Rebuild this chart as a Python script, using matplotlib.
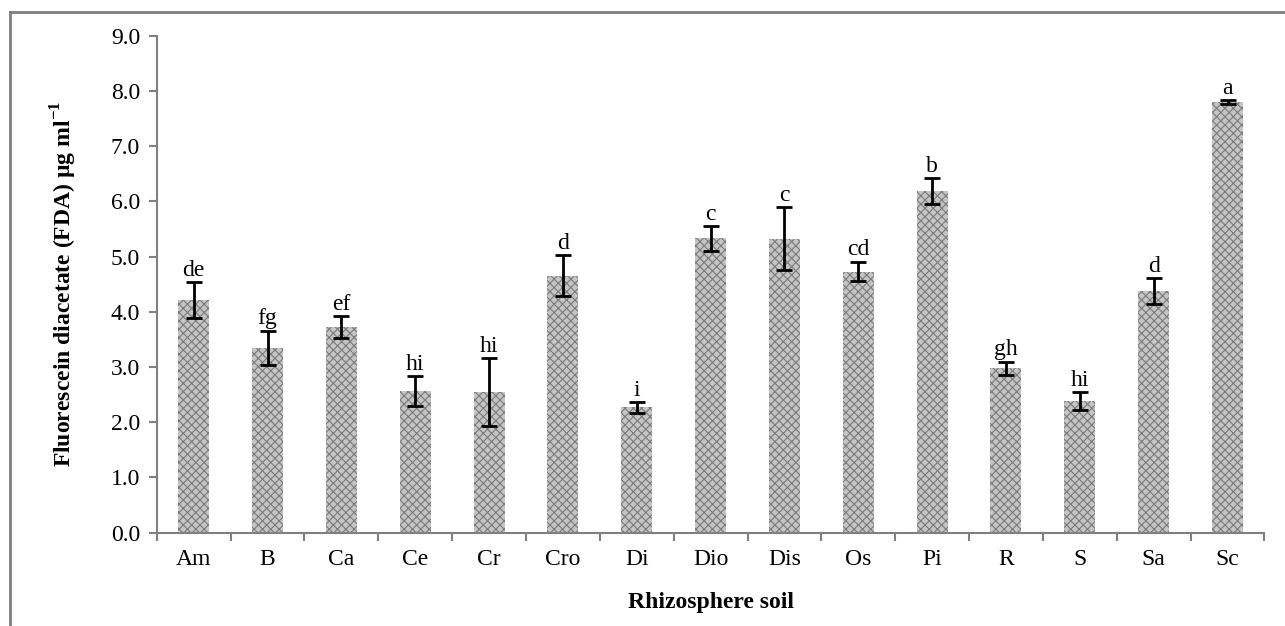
import matplotlib
matplotlib.use('Agg')
import matplotlib.pyplot as plt
from matplotlib.lines import Line2D

matplotlib.rcParams['font.family'] = ['Liberation Serif', 'DejaVu Serif']
matplotlib.rcParams['mathtext.fontset'] = 'custom'
matplotlib.rcParams['mathtext.rm'] = 'Liberation Serif'
matplotlib.rcParams['mathtext.bf'] = 'Liberation Serif:bold'
matplotlib.rcParams['hatch.linewidth'] = 0.8

soils = ['Am', 'B', 'Ca', 'Ce', 'Cr', 'Cro', 'Di', 'Dio', 'Dis', 'Os', 'Pi', 'R', 'S', 'Sa', 'Sc']
fda = [4.21, 3.35, 3.72, 2.56, 2.55, 4.65, 2.27, 5.33, 5.32, 4.73, 6.19, 2.98, 2.38, 4.38, 7.80]
err = [0.33, 0.31, 0.20, 0.27, 0.62, 0.37, 0.10, 0.23, 0.57, 0.18, 0.24, 0.12, 0.16, 0.23, 0.03]
letters = ['de', 'fg', 'ef', 'hi', 'hi', 'd', 'i', 'c', 'c', 'cd', 'b', 'gh', 'hi', 'd', 'a']

fig = plt.figure(figsize=(12.85, 6.26), dpi=100)
ax = fig.add_axes([0.122, 0.149, 0.862, 0.794])

x = range(len(soils))
ax.bar(x, fda, width=0.42, color='#c4c4c4', edgecolor='#7a7a7a', hatch='xxxx', linewidth=0)
ax.errorbar(x, fda, yerr=err, fmt='none', ecolor='black', elinewidth=2, capsize=6, capthick=2)

for i, (v, e, lab) in enumerate(zip(fda, err, letters)):
    ax.text(i, v + e + 0.02, lab, ha='center', va='bottom', fontsize=17)

ax.set_xlim(-0.5, len(soils) - 0.5)
ax.set_ylim(0, 9)
ax.set_yticks([i * 1.0 for i in range(10)])
ax.set_yticklabels([f'{i:.1f}' for i in range(10)], fontsize=17)
ax.set_xticks(list(x))
ax.set_xticklabels(soils, fontsize=17)
ax.set_xticks([i - 0.5 for i in range(len(soils) + 1)], minor=True)
ax.tick_params(axis='x', which='major', length=0, pad=12)
ax.tick_params(axis='x', which='minor', length=6, color='#808080', width=1.5)
ax.tick_params(axis='y', length=6, color='#808080', width=1.5, pad=6)

for s in ['top', 'right']:
    ax.spines[s].set_visible(False)
for s in ['left', 'bottom']:
    ax.spines[s].set_color('#808080')
    ax.spines[s].set_linewidth(1.5)

ax.set_xlabel('Rhizosphere soil', fontsize=17, fontweight='bold')
ax.xaxis.set_label_coords(0.5, -0.12)
ax.set_ylabel('Fluorescein diacetate (FDA) µg ml$^{\\mathbf{-1}}$', fontsize=17, fontweight='bold')
ax.yaxis.set_label_coords(-0.07, 0.5)

# outer frame (left and top edges only visible)
fig.add_artist(Line2D([10 / 1285, 10 / 1285], [0, 1 - 12 / 626], transform=fig.transFigure, color='#7f7f7f', lw=2))
fig.add_artist(Line2D([10 / 1285, 1], [1 - 12 / 626, 1 - 12 / 626], transform=fig.transFigure, color='#7f7f7f', lw=2))

fig.savefig('out.png', dpi=100)
